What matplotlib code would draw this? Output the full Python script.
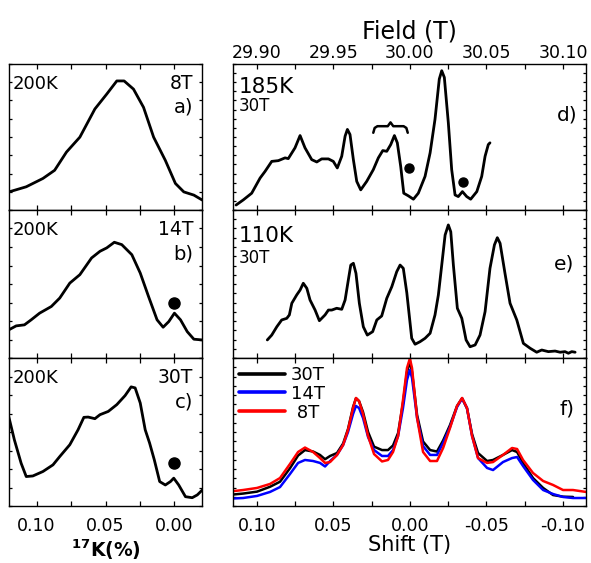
import matplotlib
matplotlib.use('Agg')
import matplotlib.pyplot as plt
from matplotlib.ticker import MultipleLocator
import numpy as np

plt.rcParams['font.family'] = ['DejaVu Sans']
plt.rcParams['lines.solid_joinstyle'] = 'round'
plt.rcParams['lines.solid_capstyle'] = 'round'

# ---------------- data ----------------
# panel a: 200K, 8T  (17K shift in %, intensity a.u.)
a_k = [0.120, 0.1075, 0.0954, 0.0869, 0.0783, 0.0686, 0.0577, 0.0491, 0.0418, 0.0365,
       0.0297, 0.0224, 0.0151, 0.0066, -0.0007, -0.0068, -0.0141, -0.0202]
a_i = [0.124, 0.159, 0.216, 0.272, 0.397, 0.499, 0.692, 0.794, 0.884, 0.884,
       0.828, 0.703, 0.499, 0.340, 0.182, 0.124, 0.102, 0.068]

# panel b: 200K, 14T
b_k = [0.1202, 0.1148, 0.1088, 0.1039, 0.0978, 0.0893, 0.0832, 0.0759, 0.0686, 0.0601,
       0.0540, 0.0491, 0.0436, 0.0382, 0.0309, 0.0248, 0.0188, 0.0126, 0.0082, 0.0041,
       0.0000, -0.0044, -0.0093, -0.0141, -0.0202]
b_i = [0.190, 0.217, 0.224, 0.258, 0.303, 0.348, 0.405, 0.506, 0.563, 0.676,
       0.721, 0.744, 0.782, 0.766, 0.698, 0.574, 0.416, 0.258, 0.208, 0.246,
       0.303, 0.258, 0.178, 0.127, 0.122]
b_dot = (0.0, 0.371)

# panel c: 200K, 30T
c_k = [0.1202, 0.1161, 0.1112, 0.1075, 0.1027, 0.0954, 0.0881, 0.0832, 0.0759, 0.0699,
       0.0657, 0.0626, 0.0577, 0.0540, 0.0480, 0.0418, 0.0358, 0.0314, 0.0285, 0.0248,
       0.0212, 0.0180, 0.0146, 0.0107, 0.0066, 0.0029, 0.0005, -0.0031, -0.0080, -0.0129,
       -0.0166, -0.0202]
c_i = [0.605, 0.447, 0.289, 0.199, 0.203, 0.233, 0.278, 0.334, 0.414, 0.515,
       0.599, 0.601, 0.590, 0.617, 0.639, 0.685, 0.746, 0.805, 0.798, 0.696,
       0.515, 0.425, 0.312, 0.165, 0.142, 0.165, 0.188, 0.142, 0.063, 0.056,
       0.075, 0.108]
c_dot = (0.0, 0.289)

# panel d: 185K, 30T (field in T)
d_f = [29.8865, 29.8912, 29.8967, 29.9022, 29.9054, 29.9098, 29.9141, 29.9185, 29.9206, 29.9250,
       29.9283, 29.9315, 29.9359, 29.9392, 29.9424, 29.9468, 29.9500, 29.9526, 29.9555, 29.9577,
       29.9592, 29.9609, 29.9631, 29.9653, 29.9679, 29.9718, 29.9761, 29.9794, 29.9823, 29.9849,
       29.9875, 29.9899, 29.9918, 29.9940, 29.9960, 29.9990, 30.0023, 30.0055, 30.0099, 30.0132,
       30.0164, 30.0192, 30.0208, 30.0225, 30.0251, 30.0273, 30.0295, 30.0316, 30.0343, 30.0371,
       30.0397, 30.0437, 30.0469, 30.0491, 30.0512, 30.0523]
d_i = [0.034, 0.069, 0.115, 0.219, 0.264, 0.333, 0.338, 0.357, 0.352, 0.426,
       0.510, 0.426, 0.345, 0.329, 0.350, 0.350, 0.333, 0.288, 0.368, 0.506,
       0.552, 0.517, 0.345, 0.196, 0.138, 0.196, 0.276, 0.357, 0.407, 0.402,
       0.448, 0.510, 0.460, 0.299, 0.115, 0.097, 0.074, 0.115, 0.230, 0.391,
       0.621, 0.897, 0.954, 0.908, 0.598, 0.276, 0.103, 0.092, 0.126, 0.092,
       0.074, 0.126, 0.230, 0.368, 0.448, 0.460]
d_dots_f = [29.9997, 30.0349]
d_dots_i = [0.288, 0.195]
brace_f = (29.9761, 29.9986)
brace_i = (0.529, 0.574, 0.600)

# panel e: 110K, 30T
e_f = [29.9069, 29.9098, 29.9131, 29.9163, 29.9196, 29.9213, 29.9229, 29.9261, 29.9283, 29.9304,
       29.9327, 29.9348, 29.9381, 29.9409, 29.9446, 29.9468, 29.9490, 29.9522, 29.9555, 29.9577,
       29.9598, 29.9614, 29.9631, 29.9648, 29.9670, 29.9696, 29.9722, 29.9757, 29.9784, 29.9816,
       29.9849, 29.9882, 29.9914, 29.9936, 29.9957, 29.9980, 30.0012, 30.0034, 30.0066, 30.0099,
       30.0132, 30.0164, 30.0186, 30.0208, 30.0230, 30.0251, 30.0267, 30.0284, 30.0310, 30.0339,
       30.0367, 30.0393, 30.0426, 30.0458, 30.0491, 30.0523, 30.0552, 30.0571, 30.0589, 30.0621,
       30.0654, 30.0698, 30.0741, 30.0785, 30.0828, 30.0861, 30.0904, 30.0948, 30.0981, 30.1013,
       30.1035, 30.1057, 30.1079]
e_i = [0.122, 0.155, 0.211, 0.257, 0.268, 0.291, 0.370, 0.426, 0.459, 0.505,
       0.471, 0.392, 0.324, 0.252, 0.291, 0.324, 0.324, 0.336, 0.329, 0.392,
       0.527, 0.628, 0.640, 0.572, 0.370, 0.211, 0.155, 0.178, 0.257, 0.284,
       0.403, 0.482, 0.583, 0.628, 0.606, 0.440, 0.133, 0.093, 0.110, 0.133,
       0.167, 0.291, 0.426, 0.628, 0.831, 0.899, 0.853, 0.628, 0.336, 0.268,
       0.122, 0.076, 0.088, 0.155, 0.313, 0.606, 0.764, 0.813, 0.775, 0.572,
       0.370, 0.257, 0.099, 0.066, 0.039, 0.054, 0.043, 0.047, 0.039, 0.043,
       0.032, 0.043, 0.039]

# panel f: shift (T) for three fields
f_shift = [0.1150, 0.1089, 0.0998, 0.0913, 0.0848, 0.0783, 0.0730, 0.0685, 0.0632, 0.0587,
           0.0554, 0.0521, 0.0476, 0.0436, 0.0404, 0.0371, 0.0352, 0.0332, 0.0306, 0.0273,
           0.0234, 0.0182, 0.0143, 0.0110, 0.0077, 0.0045, 0.0019, 0.0000, -0.0014, -0.0047,
           -0.0086, -0.0132, -0.0177, -0.0217, -0.0262, -0.0308, -0.0341, -0.0373, -0.0406, -0.0445,
           -0.0504, -0.0543, -0.0608, -0.0667, -0.0700, -0.0739, -0.0804, -0.0870, -0.0935, -0.1000,
           -0.1065, -0.1150]
f_30T = [0.078, 0.084, 0.097, 0.130, 0.164, 0.255, 0.341, 0.378, 0.368, 0.345,
         0.316, 0.338, 0.358, 0.422, 0.520, 0.669, 0.728, 0.709, 0.635, 0.500,
         0.401, 0.378, 0.378, 0.409, 0.493, 0.696, 0.905, 0.976, 0.905, 0.615,
         0.436, 0.378, 0.368, 0.443, 0.547, 0.676, 0.728, 0.659, 0.486, 0.358,
         0.304, 0.311, 0.345, 0.378, 0.365, 0.291, 0.189, 0.122, 0.074, 0.063,
         0.061, np.nan]
f_14T = [0.051, 0.054, 0.068, 0.095, 0.128, 0.216, 0.291, 0.311, 0.304, 0.291,
         0.267, 0.304, 0.345, 0.412, 0.500, 0.622, 0.676, 0.662, 0.595, 0.466,
         0.378, 0.338, 0.338, 0.378, 0.473, 0.662, 0.851, 0.919, 0.865, 0.595,
         0.405, 0.345, 0.345, 0.426, 0.534, 0.669, 0.726, 0.662, 0.473, 0.324,
         0.257, 0.243, 0.297, 0.324, 0.331, 0.270, 0.176, 0.108, 0.081, 0.061,
         0.054, 0.054]
f_8T = [0.101, 0.108, 0.122, 0.149, 0.189, 0.284, 0.365, 0.395, 0.365, 0.324,
        0.291, 0.297, 0.345, 0.412, 0.514, 0.662, 0.730, 0.709, 0.622, 0.473,
        0.351, 0.301, 0.311, 0.365, 0.473, 0.716, 0.932, 0.997, 0.932, 0.595,
        0.365, 0.304, 0.304, 0.392, 0.527, 0.676, 0.730, 0.662, 0.473, 0.324,
        0.291, 0.297, 0.345, 0.392, 0.385, 0.311, 0.223, 0.169, 0.142, 0.108,
        0.108, 0.095]

left_labels = [("200K", "8T", "a)"), ("200K", "14T", "b)"), ("200K", "30T", "c)")]
k_ticks = [0.10, 0.05, 0.00]
field_ticks = [29.90, 29.95, 30.00, 30.05, 30.10]
shift_ticks = [0.10, 0.05, 0.00, -0.05, -0.10]

# ---------------- layout ----------------
W, H = 591, 563
fig = plt.figure(figsize=(W / 100, H / 100), dpi=100)

def add_ax(x0, y0, x1, y1):
    return fig.add_axes([x0 / W, 1 - y1 / H, (x1 - x0) / W, (y1 - y0) / H])

LW = 2.0
TFS = 12.5

def style(ax, ymaj):
    for s in ax.spines.values():
        s.set_linewidth(1.0)
    ax.tick_params(which='both', direction='in', top=True, bottom=True, left=True, right=True,
                   labelleft=False, labelright=False, labelsize=TFS, width=0.9)
    ax.tick_params(axis='x', which='both', length=3.8)
    ax.tick_params(axis='y', which='both', length=2.2)
    ax.yaxis.set_major_locator(MultipleLocator(ymaj))
    ax.set_ylim(0, 1)

rows = [(64, 210), (210, 358), (358, 506)]
left_axes = [add_ax(9, r0, 202, r1) for r0, r1 in rows]
right_axes = [add_ax(233, r0, 586, r1) for r0, r1 in rows]

for ax, k, inten in zip(left_axes, [a_k, b_k, c_k], [a_i, b_i, c_i]):
    ax.plot(k, inten, color='black', lw=LW)
for ax, dot in zip(left_axes[1:], [b_dot, c_dot]):
    ax.plot([dot[0]], [dot[1]], 'o', color='black', ms=8)

for i, ax in enumerate(left_axes):
    style(ax, 0.125)
    ax.set_xlim(0.12, -0.02)
    ax.set_xticks(k_ticks)
    ax.xaxis.set_minor_locator(MultipleLocator(0.025))
    ax.tick_params(axis='x', labelbottom=(i == 2), pad=8)
    t1, t2, t3 = left_labels[i]
    ax.text(0.02, 0.83, t1, transform=ax.transAxes, fontsize=13, ha='left', va='baseline')
    ax.text(0.955, 0.83, t2, transform=ax.transAxes, fontsize=13.5, ha='right', va='baseline')
    ax.text(0.955, 0.665, t3, transform=ax.transAxes, fontsize=14, ha='right', va='baseline')
left_axes[2].set_xticklabels(['0.10', '0.05', '0.00'])
left_axes[2].set_xlabel(r'$\mathbf{^{17}K(\%)}$', fontsize=13.5, labelpad=2)

# panel d
axd, axe, axf = right_axes
axd.plot(d_f, d_i, color='black', lw=LW)
axd.plot(d_dots_f, d_dots_i, 'o', color='black', ms=6.5, ls='none')
bf0, bf1 = brace_f
bm = 0.5 * (bf0 + bf1)
bw = bf1 - bf0
yb0, yb1, yb2 = brace_i
bx = [bf0, bf0 + 0.04 * bw, bf0 + 0.12 * bw, bm - 0.08 * bw, bm, bm + 0.08 * bw,
      bf1 - 0.12 * bw, bf1 - 0.04 * bw, bf1]
by = [yb0, yb1 - 0.012, yb1, yb1, yb2, yb1, yb1, yb1 - 0.012, yb0]
axd.plot(bx, by, color='black', lw=1.8)

axe.plot(e_f, e_i, color='black', lw=LW)

xl_field = (29.8845, 30.115)
for i, ax in enumerate([axd, axe]):
    style(ax, 0.0625)
    ax.set_xlim(*xl_field)
    ax.set_xticks(field_ticks)
    ax.xaxis.set_minor_locator(MultipleLocator(0.025))
    ax.tick_params(axis='x', labelbottom=False, labeltop=(i == 0), pad=1.5)
axd.set_xticklabels(['29.90', '29.95', '30.00', '30.05', '30.10'])
axd.xaxis.set_label_position('top')
axd.set_xlabel('Field (T)', fontsize=17, labelpad=4)

axd.text(0.017, 0.80, '185K', transform=axd.transAxes, fontsize=15.5, ha='left', va='baseline')
axd.text(0.017, 0.675, '30T', transform=axd.transAxes, fontsize=12, ha='left', va='baseline')
axd.text(0.975, 0.61, 'd)', transform=axd.transAxes, fontsize=14.5, ha='right', va='baseline')
axe.text(0.017, 0.786, '110K', transform=axe.transAxes, fontsize=15.5, ha='left', va='baseline')
axe.text(0.017, 0.64, '30T', transform=axe.transAxes, fontsize=12, ha='left', va='baseline')
axe.text(0.968, 0.595, 'e)', transform=axe.transAxes, fontsize=14.5, ha='right', va='baseline')

# panel f
lf = 1.8
axf.plot(f_shift, f_30T, color='black', lw=lf, label='30T')
axf.plot(f_shift, f_14T, color='#0000ff', lw=lf, label='14T')
axf.plot(f_shift, f_8T, color='#ff0000', lw=lf, label=' 8T')
style(axf, 0.0625)
axf.set_xlim(0.1155, -0.115)
axf.set_xticks(shift_ticks)
axf.xaxis.set_minor_locator(MultipleLocator(0.025))
axf.set_xticklabels(['0.10', '0.05', '0.00', '-0.05', '-0.10'])
axf.tick_params(axis='x', labelbottom=True, pad=8)
axf.set_xlabel('Shift (T)', fontsize=15, labelpad=0)
axf.text(0.968, 0.615, 'f)', transform=axf.transAxes, fontsize=14.5, ha='right', va='baseline')
leg = axf.legend(loc='upper left', bbox_to_anchor=(-0.015, 1.02), frameon=False, fontsize=13,
                 handlelength=2.6, handletextpad=0.3, labelspacing=0.05, borderaxespad=0.2)
for h in leg.get_lines():
    h.set_linewidth(2.6)

fig.savefig('out.png', dpi=100)
